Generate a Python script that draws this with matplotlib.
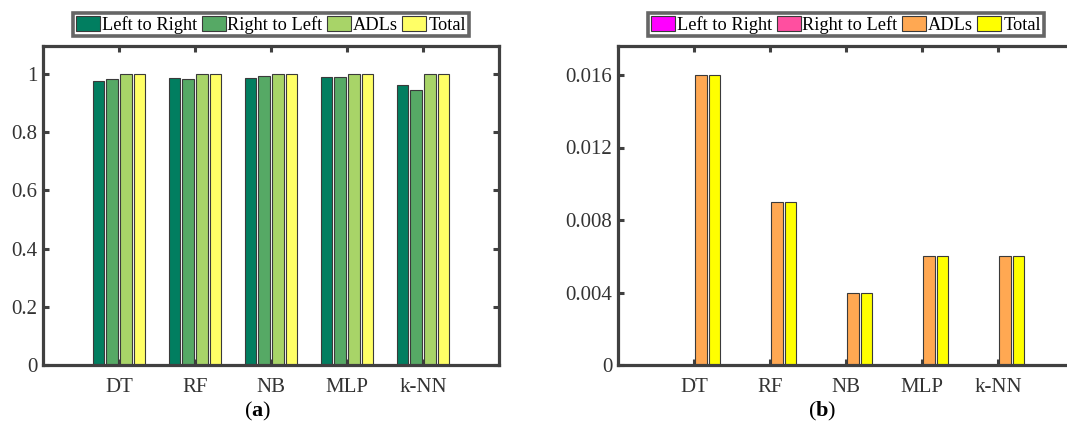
import numpy as np
import matplotlib
matplotlib.use('Agg')
import matplotlib.pyplot as plt

plt.rcParams['font.family'] = ['Liberation Serif', 'DejaVu Serif']
plt.rcParams['mathtext.fontset'] = 'custom'
plt.rcParams['mathtext.bf'] = 'Liberation Serif:bold'
plt.rcParams['mathtext.rm'] = 'Liberation Serif'

# Datos
modelos = ['DT', 'RF', 'NB', 'MLP', 'k-NN']
series = ['Left to Right', 'Right to Left', 'ADLs', 'Total']

# (a) aciertos
acc_ltr = [0.975, 0.985, 0.985, 0.989, 0.962]
acc_rtl = [0.984, 0.984, 0.993, 0.989, 0.946]
acc_adl = [1.0, 1.0, 1.0, 1.0, 1.0]
acc_tot = [1.0, 1.0, 1.0, 1.0, 1.0]

# (b) errores
err_ltr = [0, 0, 0, 0, 0]
err_rtl = [0, 0, 0, 0, 0]
err_adl = [0.016, 0.009, 0.004, 0.006, 0.006]
err_tot = [0.016, 0.009, 0.004, 0.006, 0.006]

colores_a = ['#017E60', '#56A965', '#A8D468', '#FFFF66']
colores_b = ['#FF00FF', '#FF4FA0', '#FFA852', '#FFFF00']

gris = '#404040'
W, H = 1067, 430
fig = plt.figure(figsize=(W / 100, H / 100), dpi=100)

ax_a = fig.add_axes([43 / W, (H - 365) / H, 456 / W, 319 / H])
ax_b = fig.add_axes([618 / W, (H - 365) / H, 456 / W, 319 / H])

x = np.arange(1, len(modelos) + 1)
paso = 0.182
ancho = 0.15


def dibujar(ax, valores, colores, ymax, yticks, ylabels):
    for i, (v, c, s) in enumerate(zip(valores, colores, series)):
        ax.bar(x + (i - 1.5) * paso, v, width=ancho, color=c,
               edgecolor='#3a3a3a', linewidth=0.8, label=s, zorder=2)
    ax.set_xlim(0, 6)
    ax.set_ylim(0, ymax)
    ax.set_xticks(x)
    ax.set_xticklabels(modelos)
    ax.set_yticks(yticks)
    ax.set_yticklabels(ylabels)
    for sp in ax.spines.values():
        sp.set_linewidth(2.3)
        sp.set_color(gris)
        sp.set_zorder(3)
    ax.tick_params(direction='in', top=True, right=True, length=4,
                   width=2.2, color=gris, labelsize=15, labelcolor='#333333')
    ax.tick_params(axis='x', pad=9)
    ax.tick_params(axis='y', pad=4)
    leg = ax.legend(loc='lower center', bbox_to_anchor=(0.5, 1.03), ncol=4,
                    frameon=True, fancybox=False, edgecolor=gris, fontsize=13.2,
                    handlelength=1.3, handleheight=0.85, handletextpad=0.1,
                    columnspacing=0.25, borderpad=0.15, borderaxespad=0)
    leg.get_frame().set_linewidth(2.6)


dibujar(ax_a, [acc_ltr, acc_rtl, acc_adl, acc_tot], colores_a, 1.096,
        [0, 0.2, 0.4, 0.6, 0.8, 1.0], ['0', '0.2', '0.4', '0.6', '0.8', '1'])
dibujar(ax_b, [err_ltr, err_rtl, err_adl, err_tot], colores_b, 0.0176,
        [0, 0.004, 0.008, 0.012, 0.016], ['0', '0.004', '0.008', '0.012', '0.016'])

fig.text(258 / W, 1 - 411 / H, r'($\mathbf{a}$)', ha='center', va='center', fontsize=16)
fig.text(822 / W, 1 - 411 / H, r'($\mathbf{b}$)', ha='center', va='center', fontsize=16)

fig.savefig('out.png', dpi=100)
